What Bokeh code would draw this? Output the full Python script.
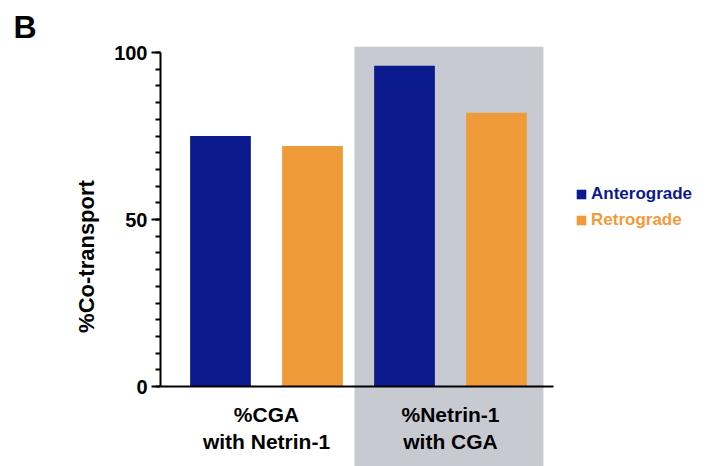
from bokeh.plotting import figure
from bokeh.models import (Range1d, FixedTicker, SingleIntervalTicker, BoxAnnotation,
                          Legend, LegendItem, ColumnDataSource)
from bokeh.transform import dodge
from bokeh.embed import file_html
from bokeh.resources import INLINE

categories = ["%CGA\nwith Netrin-1", "%Netrin-1\nwith CGA"]
series = ["Anterograde", "Retrograde"]
anterograde = [75, 96]
retrograde = [72, 82]
colors = ["#0b1a8c", "#f09b3a"]
y_ticks_major = 50
highlight_index = 1

FONT = "Liberation Sans"

idx = list(range(len(categories)))
src = ColumnDataSource(data=dict(x=idx, ant=anterograde, ret=retrograde))

p = figure(width=706, height=466, output_backend="svg", toolbar_location=None,
           x_range=Range1d(-0.576, 2.391), y_range=Range1d(-23.95, 101.8),
           min_border_left=160, min_border_right=0, min_border_top=46, min_border_bottom=0,
           outline_line_color=None, background_fill_color="white")
p.grid.visible = False

p.title.text = "B"
p.title.align = "left"
p.title.offset = -147
p.title.standoff = 0
p.title.text_font = FONT
p.title.text_font_style = "bold"
p.title.text_font_size = "32px"
p.title.text_line_height = 1.0
p.title.vertical_align = "top"
p.title.text_color = "black"

# highlighted group
p.add_layout(BoxAnnotation(left=highlight_index - 0.522, right=highlight_index + 0.505,
                           fill_color="#c8cad1", fill_alpha=1.0, line_color=None, level="underlay"))

r1 = p.vbar(x=dodge("x", -0.25), top="ant", width=0.33, source=src,
            fill_color=colors[0], line_color=None)
r2 = p.vbar(x=dodge("x", 0.25), top="ret", width=0.33, source=src,
            fill_color=colors[1], line_color=None)

# x axis
xa = p.xaxis[0]
xa.fixed_location = 0
xa.ticker = FixedTicker(ticks=idx)
xa.major_label_overrides = {i: c for i, c in zip(idx, categories)}
xa.bounds = (-0.576, 1.56)
xa.axis_line_width = 2
xa.axis_line_color = "black"
xa.major_tick_line_color = None
xa.minor_tick_line_color = None
xa.major_label_text_font = FONT
xa.major_label_text_font_style = "bold"
xa.major_label_text_font_size = "21px"
xa.major_label_text_color = "black"
xa.major_label_text_line_height = 1.2
xa.major_label_standoff = 10

# y axis
ya = p.yaxis[0]
ya.bounds = (0, 100)
ya.ticker = SingleIntervalTicker(interval=y_ticks_major, num_minor_ticks=10)
ya.axis_line_width = 2
ya.axis_line_color = "black"
ya.major_tick_line_width = 2
ya.minor_tick_line_width = 2
ya.major_tick_out = 9
ya.major_tick_in = 0
ya.minor_tick_out = 5
ya.minor_tick_in = 0
ya.major_label_text_font = FONT
ya.major_label_text_font_style = "bold"
ya.major_label_text_font_size = "20px"
ya.major_label_text_color = "black"
ya.major_label_standoff = 4
ya.axis_label = "%Co-transport"
ya.axis_label_text_font = FONT
ya.axis_label_text_font_style = "bold"
ya.axis_label_text_font_size = "22px"
ya.axis_label_text_color = "black"
ya.axis_label_standoff = 12

# legends with coloured text
for r, name, c, y in [(r1, series[0], colors[0], 262), (r2, series[1], colors[1], 236)]:
    lg = Legend(items=[LegendItem(label=name, renderers=[r])], location=(415, y),
                label_text_color=c, label_text_font=FONT, label_text_font_style="bold",
                label_text_font_size="17px", glyph_width=12, glyph_height=12,
                label_standoff=4, padding=0, margin=0, border_line_color=None,
                background_fill_alpha=0, label_height=20)
    p.add_layout(lg)

open("out.html", "w").write(file_html(p, INLINE))
